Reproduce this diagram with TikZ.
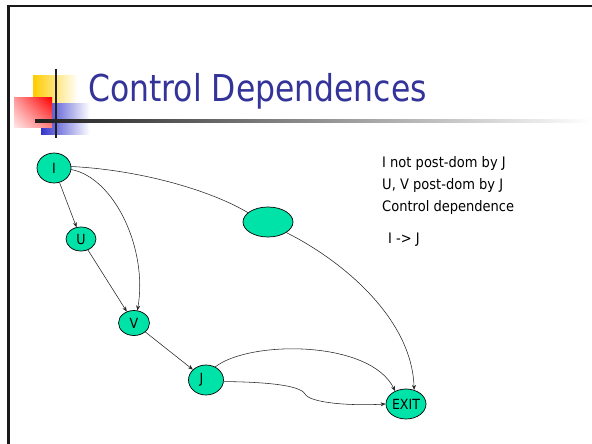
\documentclass[tikz,border=0pt]{standalone}
\usepackage{fontspec}
\setmainfont{DejaVu Sans}[FakeStretch=0.85]
\newfontfamily\bodyfont{DejaVu Sans}[FakeStretch=0.9]
\usetikzlibrary{shapes.geometric,arrows.meta,shadings}
\definecolor{titleblue}{RGB}{51,51,153}
\definecolor{nodegreen}{RGB}{0,227,168}
\definecolor{logoyellow}{RGB}{255,204,0}
\definecolor{logoblue}{RGB}{51,51,204}
\definecolor{logored}{RGB}{255,0,0}
\begin{document}
\begin{tikzpicture}[x=1pt,y=-1pt,
  cfg/.style={ellipse, draw=black, line width=0.7pt, fill=nodegreen, inner sep=0pt, font=\bodyfont\fontsize{14}{16}\selectfont},
  edge/.style={draw=black!85, line width=0.55pt, -{Stealth[length=5pt,width=4pt]}},
  plain/.style={draw=black!85, line width=0.55pt},
  txt/.style={anchor=base west, font=\bodyfont\fontsize{14.5}{16}\selectfont, inner sep=0pt}]
\useasboundingbox (0,0) rectangle (592,444);
\fill[white] (0,0) rectangle (592,444);
% frame
\draw[line width=2.5pt, black!90] (8.5,444) -- (8.5,6) -- (592,6);
% logo
\shade[left color=logoyellow, middle color=logoyellow, right color=white] (33,76) rectangle (78,104);
\shade[left color=logoblue, middle color=logoblue, right color=white] (41,103) rectangle (90,134);
\shade[upper right=logored, upper left=logored!40, lower right=logored!50, lower left=logored!10] (14,98) rectangle (52,127);
\draw[line width=2.5pt, black!88] (56,69) -- (56,138);
\shade[left color=black!88, right color=white] (35,119.8) rectangle (592,122.3);
% title
\node[anchor=base west, text=titleblue, font=\fontsize{37}{40}\selectfont, inner sep=0pt] (title) at (88,102) {Control Dependences};
% nodes
\node[cfg, minimum width=34pt, minimum height=30pt] (I) at (54,168) {I};
\node[cfg, minimum width=30pt, minimum height=24pt] (U) at (81,239) {U};
\node[cfg, minimum width=31pt, minimum height=25pt] (V) at (134,323) {V};
\node[cfg, minimum width=35pt, minimum height=30pt] (J) at (206,380) {\raisebox{-3pt}{J}\hspace*{9pt}};
\node[cfg, minimum width=50pt, minimum height=30pt] (X) at (268,222) {};
\node[cfg, minimum width=40pt, minimum height=30pt] (EXIT) at (406,404) {EXIT};
% edges
\draw[edge] (I) -- (U);
\draw[edge] (U) -- (V);
\draw[edge] (V) -- (J);
\draw[edge] (I.-5) .. controls (115,178) and (148,250) .. (V.75);
\draw[plain] (I.5) .. controls (140,170) and (210,190) .. (X.155);
\draw[edge] (X.-30) .. controls (345,262) and (412,320) .. (EXIT.60);
\draw[edge] (J.55) .. controls (250,340) and (370,340) .. (EXIT.130);
\draw[edge] (J.-5) .. controls (265,382) and (300,385) .. (305,394) .. controls (310,403) and (350,406) .. (EXIT.west);
% text
\node[txt] (t1) at (382,167) {I not post-dom by J};
\node[txt] (t2) at (382,189) {U, V post-dom by J};
\node[txt] (t3) at (382,211) {Control dependence};
\node[txt] (t4) at (388,243) {I -> J};
\end{tikzpicture}
\end{document}
